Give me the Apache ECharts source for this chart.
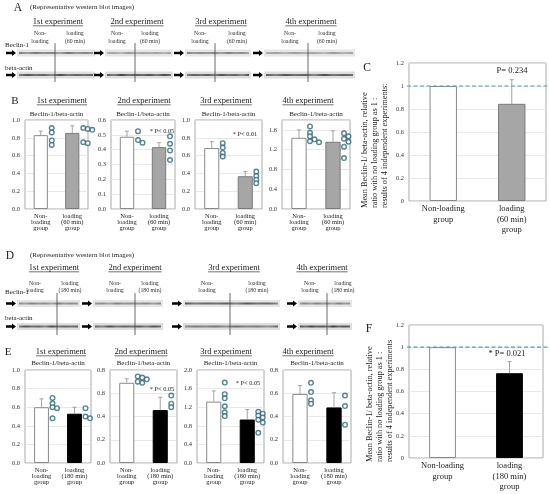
<!DOCTYPE html>
<html lang="en">
<head>
<meta charset="UTF-8">
<title>Beclin-1/beta-actin</title>
<script src="https://cdn.jsdelivr.net/npm/echarts@6/dist/echarts.min.js"></script>
<style>
    body { margin: 0; background: #fff; }
    #chart { width: 550px; height: 494px; }
</style>
</head>
<body>
<div id="chart"></div>
<script>
// ---- data ----
const experiments = ['1st experiment', '2nd experiment', '3rd experiment', '4th experiment'];
const smallCats60 = ['Non-\nloading\ngroup', 'loading\n(60 min)\ngroup'];
const smallCats180 = ['Non-\nloading\ngroup', 'loading\n(180 min)\ngroup'];
const bigCats60 = ['Non-loading\ngroup', 'loading\n(60 min)\ngroup'];
const bigCats180 = ['Non-loading\ngroup', 'loading\n(180 min)\ngroup'];

// B: 60 min loading, per experiment [non-loading, loading]
const bMeans = [[0.83, 0.855], [0.487, 0.417], [0.685, 0.368], [1.44, 1.36]];
const bErrors = [[0.045, 0.08], [0.038, 0.03], [0.072, 0.054], [0.16, 0.22]];
const bNonDots = [[0.91, 0.86, 0.77, 0.72], [0.525, 0.465, 0.447], [0.74, 0.69, 0.63, 0.59], [1.67, 1.54, 1.47, 1.41, 1.37, 1.35]];
const bLoadDots = [[0.91, 0.90, 0.89, 0.75, 0.74], [0.49, 0.44, 0.395, 0.33], [0.42, 0.37, 0.33, 0.29], [1.53, 1.47, 1.42, 1.36, 1.26, 1.03]];
const bAxisMax = [1.0, 0.6, 1.0, 1.8];
const bAxisStep = [0.2, 0.1, 0.2, 0.4];
const bSig = ['', '* P< 0.05', '* P< 0.01', ''];

// E: 180 min loading
const eMeans = [[0.60, 0.53], [0.69, 0.455], [1.32, 0.935], [0.594, 0.478]];
const eErrors = [[0.09, 0.07], [0.035, 0.11], [0.23, 0.215], [0.072, 0.127]];
const eNonDots = [[0.70, 0.64, 0.60, 0.59, 0.48], [0.745, 0.735, 0.72, 0.70, 0.69], [1.73, 1.48, 1.39, 1.22, 1.09, 1.01], [0.69, 0.61, 0.54, 0.51]];
const eLoadDots = [[0.59, 0.50, 0.48], [0.58, 0.51, 0.48], [1.10, 1.06, 1.02, 0.98, 0.93, 0.87, 0.65], [0.58, 0.49, 0.33]];
const eAxisMax = [1.0, 0.8, 2.0, 0.8];
const eAxisStep = [0.2, 0.2, 0.4, 0.2];
const eSig = ['', '* P< 0.05', '* P< 0.05', ''];

// C and F: mean ratio, non-loading = 1
const cMeans = [1.0, 0.845];
const cErrors = [0, 0.21];
const fMeans = [1.0, 0.765];
const fErrors = [0, 0.105];
const bigAxisMax = 1.2;
const bigAxisStep = 0.2;
const refLevel = 1;
const cP = 'P= 0.234';
const fP = '* P= 0.021';
const bigYTitle = ['Mean Beclin-1/ beta-actin, relative', 'ratio with no loading group as 1 :'];
const cYTitle3 = 'results of 4 independent experiments:';
const fYTitle3 = 'results of 4 independent experiments';

// ---- layout ----
const SERIF = '"Liberation Serif", "Times New Roman", serif';
const bGrids = [{left: 25, width: 63}, {left: 111, width: 64}, {left: 195, width: 67}, {left: 282, width: 68}];
const eGrids = [{left: 25, width: 66}, {left: 110, width: 67}, {left: 197, width: 67}, {left: 283, width: 68}];
const bSigPos = [null, [162, 131], [245, 134], null];
const eSigPos = [null, [162, 389], [248, 383], null];

const blotA = {
    strips: [[17, 95], [105, 173], [185, 251], [264, 355]],
    dividers: [55, 135, 215, 308],
    beclinY: 49.5, actinY: 71.5, lineTop: 43, lineBottom: 82,
    laneY: 33, laneLine: 8, nonX: [40, 117, 200, 290], loadX: [75, 150, 237, 327],
    loadText: 'loading\n(60 min)', headY: 22, headX: [58, 137, 221, 311],
    beclinLabelY: 45, actinLabelY: 68, letter: ['A', 18, 8], captionY: 7
};
const blotD = {
    strips: [[17, 80], [93, 163], [183, 280], [298, 352]],
    dividers: [57, 135, 230, 327],
    beclinY: 300, actinY: 323, lineTop: 293, lineBottom: 335,
    laneY: 283, laneLine: 7, nonX: [35, 115, 207, 310], loadX: [70, 150, 257, 343],
    loadText: 'loading\n(180 min)', headY: 268, headX: [54, 135, 234, 322],
    beclinLabelY: 292, actinLabelY: 318, letter: ['D', 10, 256], captionY: 255
};

const chart = echarts.init(document.getElementById('chart'));
const option = { animation: false, grid: [], xAxis: [], yAxis: [], series: [] };
const graphics = [];

const measureCtx = document.createElement('canvas').getContext('2d');
function textWidth(text, size) {
    measureCtx.font = size + 'px "Liberation Serif"';
    return measureCtx.measureText(text).width;
}

function text(str, x, y, size, align, extra) {
    graphics.push(Object.assign({
        type: 'text', x: x, y: y, silent: true,
        style: { text: str, fontFamily: SERIF, fontSize: size, fill: '#222', textAlign: align || 'center', textVerticalAlign: 'middle' }
    }, extra || {}));
}

function heading(str, cx, y, size) {
    text(str, cx, y, size);
    const w = textWidth(str, size);
    graphics.push({ type: 'line', silent: true, shape: { x1: cx - w / 2, y1: y + size * 0.45, x2: cx + w / 2, y2: y + size * 0.45 }, style: { stroke: '#333', lineWidth: 0.7 } });
}

function renderErr(params, api) {
    const x = api.value(0), m = api.value(1), e = api.value(2);
    if (!e) return null;
    const p0 = api.coord([x, m]), p1 = api.coord([x, m + e]);
    const st = { stroke: '#9a9a9a', lineWidth: 0.9 };
    return { type: 'group', children: [
        { type: 'line', shape: { x1: p0[0], y1: p0[1], x2: p1[0], y2: p1[1] }, style: st },
        { type: 'line', shape: { x1: p1[0] - 2, y1: p1[1], x2: p1[0] + 2, y2: p1[1] }, style: st }
    ] };
}

// spread overlapping dots sideways so each circle stays visible
function swarm(values, pxPerUnit, base) {
    const placed = [];
    return values.map(v => {
        const y = v * pxPerUnit;
        let dx = base;
        for (const t of [0, 4.5, 9, 13.5]) {
            if (placed.every(p => Math.hypot(p.x - (base + t), p.y - y) >= 3.4)) { dx = base + t; break; }
        }
        placed.push({ x: dx, y: y });
        return dx;
    });
}

const whiteBar = { color: '#fff', borderColor: '#8a8a8a', borderWidth: 1 };
const grayBar = { color: '#a6a6a6', borderColor: '#7a7a7a', borderWidth: 1 };
const blackBar = { color: '#000', borderColor: '#000', borderWidth: 1 };

function addPanel(p) {
    const gi = option.grid.length;
    option.grid.push({ left: p.left, top: p.top, width: p.width, height: p.height, show: true, borderColor: '#a9a9a9', borderWidth: 1 });
    option.xAxis.push({
        type: 'category', gridIndex: gi, data: p.cats,
        axisLine: { show: false }, axisTick: { show: false },
        axisLabel: { interval: 0, fontFamily: SERIF, fontSize: p.catFont, lineHeight: p.catLine, color: '#222', margin: p.catMargin }
    });
    option.yAxis.push({
        type: 'value', gridIndex: gi, min: 0, max: p.max, interval: p.step,
        axisLine: { show: false }, axisTick: { show: false },
        splitLine: { lineStyle: { color: '#e2e2e2', width: 0.8 } },
        axisLabel: { fontFamily: SERIF, fontSize: p.tickFont, color: '#333', margin: p.tickMargin, formatter: p.fmt, showMaxLabel: p.showMax }
    });
    option.series.push({
        type: 'bar', xAxisIndex: gi, yAxisIndex: gi, barWidth: p.barWidth, silent: true, z: 2,
        data: p.means.map((m, i) => ({ value: m, itemStyle: i ? p.loadStyle : whiteBar }))
    });
    option.series.push({
        type: 'custom', xAxisIndex: gi, yAxisIndex: gi, renderItem: renderErr, silent: true, z: 3,
        data: p.means.map((m, i) => [i, m, p.errs[i]])
    });
    if (p.dots) {
        const ppu = p.height / p.max;
        p.dots.forEach((vals, ci) => {
            const offs = swarm(vals, ppu, 11);
            option.series.push({
                type: 'scatter', xAxisIndex: gi, yAxisIndex: gi, symbol: 'circle', symbolSize: 4.6, silent: true, z: 4,
                itemStyle: { color: '#fff', borderColor: '#2e6676', borderWidth: 1.4 },
                data: vals.map((v, k) => ({ value: [ci, v], symbolOffset: [offs[k], 0] }))
            });
        });
    }
    return gi;
}

const fmt1 = v => v.toFixed(1);

// small charts, rows B and E
experiments.forEach((name, i) => {
    const gb = bGrids[i];
    addPanel({
        left: gb.left, top: 120, width: gb.width, height: 89, cats: smallCats60,
        means: bMeans[i], errs: bErrors[i], dots: [bNonDots[i], bLoadDots[i]],
        max: bAxisMax[i], step: bAxisStep[i], showMax: bAxisMax[i] % bAxisStep[i] < 1e-6 || bAxisStep[i] - bAxisMax[i] % bAxisStep[i] < 1e-6,
        loadStyle: grayBar, barWidth: '45%', catFont: 6.5, catLine: 6.3, catMargin: 4,
        tickFont: 6.5, tickMargin: 5, fmt: fmt1
    });
    heading(name, [62, 144, 226, 308][i], 101, 8.5);
    text('Beclin-1/beta-actin', gb.left + gb.width / 2, 114.5, 7);
    if (bSig[i]) text(bSig[i], bSigPos[i][0], bSigPos[i][1], 6.3);

    const ge = eGrids[i];
    addPanel({
        left: ge.left, top: 370, width: ge.width, height: 93, cats: smallCats180,
        means: eMeans[i], errs: eErrors[i], dots: [eNonDots[i], eLoadDots[i]],
        max: eAxisMax[i], step: eAxisStep[i], showMax: true,
        loadStyle: blackBar, barWidth: '45%', catFont: 6.5, catLine: 6.3, catMargin: 4,
        tickFont: 6.5, tickMargin: 5, fmt: fmt1
    });
    heading(name, [61, 141, 226, 308][i], 352, 8.5);
    text('Beclin-1/beta-actin', ge.left + ge.width / 2, 363, 7);
    if (eSig[i]) text(eSig[i], eSigPos[i][0], eSigPos[i][1], 6.3);
});

// big charts C and F
const gC = addPanel({
    left: 409, top: 63, width: 137, height: 138, cats: bigCats60, means: cMeans, errs: cErrors,
    max: bigAxisMax, step: bigAxisStep, showMax: true, loadStyle: grayBar, barWidth: '40%',
    catFont: 8.5, catLine: 10.5, catMargin: 3, tickFont: 6.4, tickMargin: 5
});
const gF = addPanel({
    left: 409, top: 325, width: 134, height: 133, cats: bigCats180, means: fMeans, errs: fErrors,
    max: bigAxisMax, step: bigAxisStep, showMax: true, loadStyle: blackBar, barWidth: '40%',
    catFont: 8.5, catLine: 10.5, catMargin: 3, tickFont: 6.4, tickMargin: 5
});
text('C', 367, 68, 11.5);
text('F', 369, 329, 11.5);
text(cP, 512, 71, 8.5);
text(fP, 507, 354, 8.5);
[[bigYTitle[0], bigYTitle[1], cYTitle3, 365, 208], [bigYTitle[0], bigYTitle[1], fYTitle3, 370, 462]].forEach(t => {
    [t[0], t[1], t[2]].forEach((line, k) => {
        text(line, t[3] + k * 10, t[4], 8.3, 'left', { rotation: Math.PI / 2 });
    });
});

// letters for B and E
text('B', 15, 101, 11);
text('E', 8, 352, 11);

// western blot strips
const bandPattern = [0.85, 0.6, 0.9, 0.7, 0.8, 0.55, 0.95, 0.65, 0.8, 0.7];
function bandFill(base, shift, strength) {
    const stops = [];
    for (let k = 0; k < bandPattern.length; k++) {
        const a = bandPattern[(k + shift) % bandPattern.length] * strength;
        stops.push({ offset: k / (bandPattern.length - 1), color: 'rgba(' + base + ',' + a.toFixed(2) + ')' });
    }
    return new echarts.graphic.LinearGradient(0, 0, 1, 0, stops);
}
function arrow(x, y) {
    graphics.push({
        type: 'polygon', silent: true,
        shape: { points: [[x, y - 1.3], [x + 6, y - 1.3], [x + 6, y - 3], [x + 10, y], [x + 6, y + 3], [x + 6, y + 1.3], [x, y + 1.3]] },
        style: { fill: '#000' }
    });
}
function laneLabel(str, x, b) {
    graphics.push({
        type: 'text', x: x, y: b.laneY + b.laneLine / 2, silent: true,
        style: { text: str, fontFamily: SERIF, fontSize: 5.8, lineHeight: b.laneLine, fill: '#333', textAlign: 'center', textVerticalAlign: 'middle' }
    });
}
function blot(b, beclinStrength, actinStrength) {
    text(b.letter[0], b.letter[1], b.letter[2], 11.5);
    text('(Representative western blot images)', 30, b.captionY, 7, 'left');
    text('Beclin-1', 5, b.beclinLabelY, 7, 'left');
    text('beta-actin', 5, b.actinLabelY, 7, 'left');
    b.strips.forEach((s, i) => {
        heading(experiments[i], b.headX[i], b.headY, 8.5);
        [[b.beclinY, beclinStrength[i], '#e5e5e5'], [b.actinY, actinStrength[i], '#dedede']].forEach((row, k) => {
            const y = row[0];
            graphics.push({ type: 'rect', silent: true, shape: { x: s[0], y: y, width: s[1] - s[0], height: 7 }, style: { fill: row[2] } });
            graphics.push({ type: 'rect', silent: true, shape: { x: s[0] + 2, y: y + 2.4, width: s[1] - s[0] - 4, height: 2.2 }, style: { fill: bandFill('30,30,30', i * 3 + k, row[1]) } });
            arrow(s[0] - 11, y + 3.5);
        });
        graphics.push({ type: 'line', silent: true, shape: { x1: b.dividers[i], y1: b.lineTop, x2: b.dividers[i], y2: b.lineBottom }, style: { stroke: '#444', lineWidth: 0.8 } });
        laneLabel('Non-\nloading', b.nonX[i], b);
        laneLabel(b.loadText, b.loadX[i], b);
    });
}
blot(blotA, [0.6, 0.4, 0.55, 0.4], [0.8, 0.85, 0.8, 0.8]);
blot(blotD, [0.55, 0.55, 0.8, 0.55], [0.8, 0.8, 0.65, 0.9]);

graphics.forEach((g, i) => { g.id = 'g' + i; });
option.graphic = graphics;
chart.setOption(option);

// dashed reference line at ratio 1, running past the plot frame to the page edge
[gC, gF].forEach((gi, k) => {
    const p = chart.convertToPixel({ gridIndex: gi }, [0, refLevel]);
    const left = option.grid[gi].left - 2;
    graphics.push({ id: 'dash' + k, type: 'line', silent: true, z: 10, shape: { x1: left, y1: p[1], x2: 550, y2: p[1] }, style: { stroke: '#4a9fb2', lineWidth: 1.1, lineDash: [4, 2.5] } });
});
chart.setOption({ graphic: graphics });
</script>
</body>
</html>
